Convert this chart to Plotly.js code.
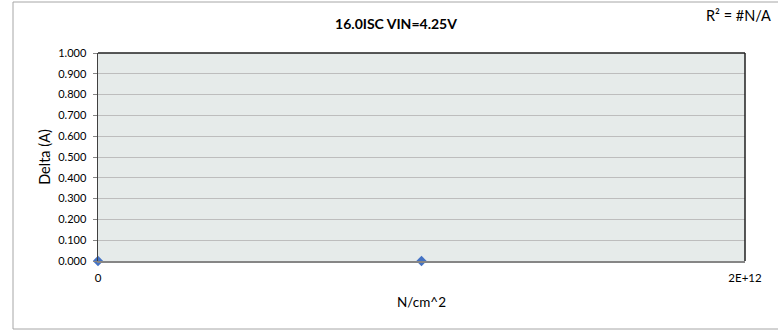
<!DOCTYPE html>
<html>
<head>
<meta charset="utf-8">
<script src="https://cdn.plot.ly/plotly-3.0.1.min.js"></script>
<style>html,body{margin:0;padding:0;background:#fff;}#chart{width:778px;height:333px;}</style>
</head>
<body>
<div id="chart"></div>
<script>
const xValues = [0, 1e12];
const yValues = [0, 0];
const xTickVals = [0, 2e12];
const xTickText = ["0", "2E+12"];
const chartTitle = "16.0ISC VIN=4.25V";
const xTitle = "N/cm^2";
const yTitle = "Delta (A)";
const r2Label = "R² = #N/A";

const FONT = "Lato, 'Open Sans', sans-serif";

const trace = {
  x: xValues, y: yValues, type: 'scatter', mode: 'markers',
  marker: {symbol: 'diamond', size: 8, color: '#4472c4'},
  cliponaxis: false, hoverinfo: 'none'
};

const layout = {
  width: 778, height: 333,
  margin: {l: 98, r: 33, t: 53, b: 72},
  paper_bgcolor: '#ffffff',
  plot_bgcolor: '#e6ebea',
  showlegend: false,
  font: {family: FONT, size: 11, color: '#000'},
  title: {text: '<b>' + chartTitle + '</b>', font: {family: FONT, size: 14, color: '#000'},
          x: 396/778, xanchor: 'center', y: 1 - 24/333, yanchor: 'middle'},
  xaxis: {
    range: [0, 2e12], tickmode: 'array', tickvals: xTickVals, ticktext: xTickText,
    showgrid: false, zeroline: false, showline: true, linecolor: '#868686', linewidth: 1.5,
    ticks: '', tickfont: {family: FONT, size: 11.5}, ticklabelstandoff: 6,
    title: {text: xTitle, font: {family: FONT, size: 13.5}, standoff: 14}
  },
  yaxis: {
    range: [0, 1], dtick: 0.1, tickformat: '.3f',
    showgrid: true, gridcolor: '#bdbdbd', gridwidth: 1, zeroline: false,
    showline: true, linecolor: '#404040', linewidth: 1.5,
    ticks: 'outside', ticklen: 4, tickcolor: '#868686',
    tickfont: {family: FONT, size: 11}, ticklabelstandoff: 4,
    title: {text: yTitle, font: {family: FONT, size: 14.5}, standoff: 4}
  },
  shapes: [
    {type: 'line', xref: 'paper', yref: 'paper', x0: 0, x1: 1, y0: 1, y1: 1, line: {color: '#202020', width: 1.5}, layer: 'above'},
    {type: 'line', xref: 'paper', yref: 'paper', x0: 1, x1: 1, y0: 0, y1: 1, line: {color: '#202020', width: 1.5}, layer: 'above'},
    {type: 'rect', xref: 'paper', yref: 'paper', x0: (13-98)/647, x1: (790-98)/647, y0: (261-329)/208, y1: (261-2)/208, line: {color: '#a6a6a6', width: 1}, layer: 'below'}
  ],
  annotations: [
    {text: r2Label, xref: 'paper', yref: 'paper', x: (773-98)/647, xanchor: 'right', y: (261-16)/208, yanchor: 'middle',
     showarrow: false, font: {family: FONT, size: 14.5, color: '#000'}}
  ]
};

Plotly.newPlot('chart', [trace], layout, {displayModeBar: false, staticPlot: true});
</script>
</body>
</html>
